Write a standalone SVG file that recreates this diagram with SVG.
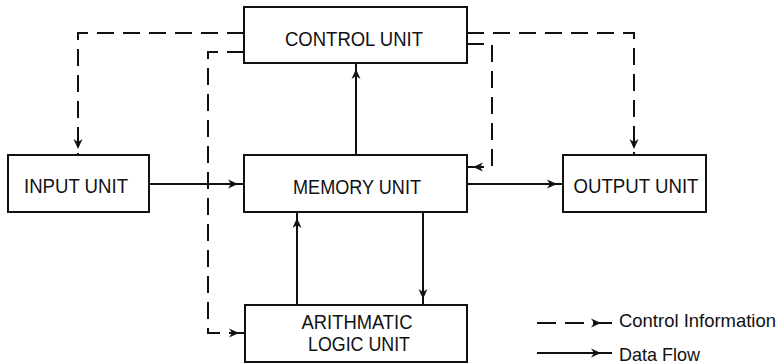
<svg xmlns="http://www.w3.org/2000/svg" width="781" height="364" viewBox="0 0 781 364">
<defs>
<marker id="ah" markerUnits="userSpaceOnUse" markerWidth="22" markerHeight="12" viewBox="-1 -6 22 12" refX="16" refY="0" orient="auto">
<path d="M0,-4.5 L10,0 L0,4.5 L3,0 Z" fill="#111"/>
</marker>
<marker id="ahl" markerUnits="userSpaceOnUse" markerWidth="30" markerHeight="12" viewBox="-1 -6 30 12" refX="21" refY="0" orient="auto">
<path d="M0,-4.5 L10,0 L0,4.5 L3,0 Z" fill="#111"/>
</marker>
<style>
.box{fill:#fff;stroke:#111;stroke-width:2}
.lbl{font-family:"Liberation Sans",Arial,sans-serif;font-size:21px;fill:#111;text-anchor:middle}
.leg{font-family:"Liberation Sans",Arial,sans-serif;font-size:19px;fill:#111}
.data{fill:none;stroke:#111;stroke-width:2;marker-end:url(#ah)}
.ctrl{fill:none;stroke:#111;stroke-width:2;stroke-dasharray:17 9;marker-end:url(#ah)}
</style>
</defs>
<rect width="781" height="364" fill="#fff"/>
<g id="connectors">
<path class="ctrl" d="M244,33 H78 V155"/>
<path class="ctrl" d="M244,52 H208 V333 H245"/>
<path class="ctrl" d="M467,33 H634 V155"/>
<path class="ctrl" d="M467,44 H492 V167 H467"/>
<path class="data" d="M149,184 H244"/>
<path class="data" d="M356,155 V63"/>
<path class="data" d="M467,184 H563"/>
<path class="data" d="M297,305 V212"/>
<path class="data" d="M423,212 V305"/>
</g>
<g id="control-unit">
<rect class="box" x="244" y="7" width="223" height="56"/>
<text class="lbl" x="354" y="46" textLength="138" lengthAdjust="spacingAndGlyphs">CONTROL UNIT</text>
</g>
<g id="input-unit">
<rect class="box" x="8" y="155" width="141" height="57"/>
<text class="lbl" x="76" y="193" textLength="104" lengthAdjust="spacingAndGlyphs">INPUT UNIT</text>
</g>
<g id="memory-unit">
<rect class="box" x="244" y="155" width="223" height="57"/>
<text class="lbl" x="357" y="194" textLength="128" lengthAdjust="spacingAndGlyphs">MEMORY UNIT</text>
</g>
<g id="output-unit">
<rect class="box" x="563" y="155" width="143" height="57"/>
<text class="lbl" x="636" y="193" textLength="125" lengthAdjust="spacingAndGlyphs">OUTPUT UNIT</text>
</g>
<g id="alu">
<rect class="box" x="245" y="305" width="222" height="57"/>
<text class="lbl" x="357" y="329" textLength="111" lengthAdjust="spacingAndGlyphs">ARITHMATIC</text>
<text class="lbl" x="359" y="351" textLength="102" lengthAdjust="spacingAndGlyphs">LOGIC UNIT</text>
</g>
<g id="legend">
<path d="M537,323 H612" fill="none" stroke="#111" stroke-width="2" stroke-dasharray="19 9" marker-end="url(#ahl)"/>
<path d="M537,353 H612" fill="none" stroke="#111" stroke-width="2" marker-end="url(#ahl)"/>
<text class="leg" x="619" y="327" textLength="157" lengthAdjust="spacingAndGlyphs">Control Information</text>
<text class="leg" x="619" y="361" textLength="81" lengthAdjust="spacingAndGlyphs">Data Flow</text>
</g>
</svg>
